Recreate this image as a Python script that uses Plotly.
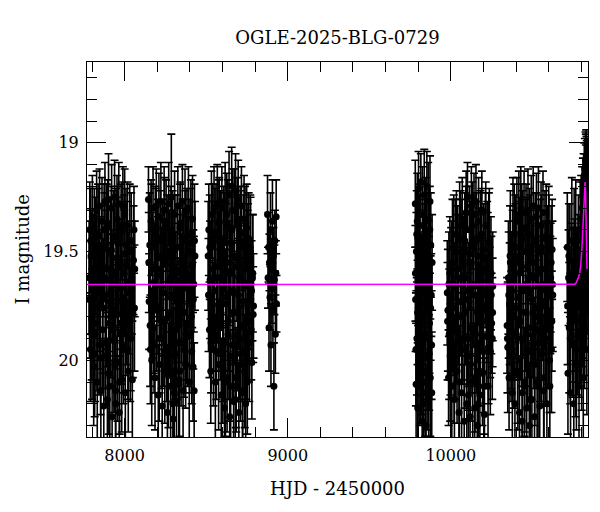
import plotly.graph_objects as go

# ---- Season data (HJD - 2450000, I mag, error) ----
t1 = [7782, 7786, 7790, 7794, 7798, 7802, 7806, 7810, 7814, 7818,
      7824, 7828, 7832, 7835, 7839, 7843, 7846, 7850, 7854, 7857,
      7861, 7865, 7868, 7872, 7876, 7879, 7883, 7887, 7890, 7894,
      7898, 7901, 7905, 7909, 7912, 7916, 7920, 7923, 7927, 7931,
      7934, 7938, 7942, 7945, 7949, 7953, 7956, 7960, 7964, 7967,
      7971, 7975, 7978, 7982, 7986, 7989, 7993, 7997, 8000, 8004,
      8008, 8012, 8017, 8022, 8028, 8034, 8040, 8047, 8054, 8060,
      7784, 7792, 7800, 7808, 7816, 7822, 7830, 7837, 7844, 7852,
      7859, 7866, 7874, 7881, 7888, 7896, 7903, 7910, 7918, 7925,
      7932, 7940, 7947, 7954, 7962, 7969, 7976, 7984, 7991, 7998,
      8006, 8014, 8020, 8026, 8031, 8037, 8043, 8050, 8057, 8062,
      7913, 7929, 7944, 7958, 7980]
m1 = [19.62, 19.40, 19.95, 19.52, 19.81, 19.34, 19.71, 20.03, 19.46, 19.88,
      19.57, 19.31, 20.10, 19.66, 19.43, 19.93, 19.29, 19.75, 20.14, 19.55,
      19.36, 19.86, 19.62, 20.21, 19.48, 19.27, 19.98, 19.70, 19.39, 20.18,
      19.58, 19.26, 19.83, 20.12, 19.50, 19.68, 19.30, 20.26, 19.61, 19.44,
      19.91, 19.25, 19.77, 20.20, 19.53, 19.35, 20.01, 19.66, 19.28, 20.24,
      19.57, 19.83, 19.41, 20.09, 19.72, 19.29, 19.95, 19.60, 19.33, 20.15,
      19.47, 19.79, 19.38, 20.05, 19.64, 19.88, 19.45, 20.09, 19.54, 19.76,
      19.72, 19.45, 19.88, 19.58, 19.97, 19.50, 19.83, 19.42, 19.68, 19.99,
      19.53, 19.76, 19.40, 19.92, 19.63, 19.37, 20.06, 19.73, 19.49, 19.86,
      19.60, 20.02, 19.43, 19.79, 19.55, 20.10, 19.67, 19.38, 19.94, 19.51,
      19.82, 19.56, 19.95, 19.69, 19.50, 19.90, 19.62, 19.78, 19.40, 19.58,
      19.80, 19.65, 20.14, 19.46, 19.88]
e1 = [0.26, 0.22, 0.24, 0.21, 0.28, 0.19, 0.19, 0.27, 0.25, 0.31,
      0.22, 0.18, 0.30, 0.20, 0.22, 0.23, 0.17, 0.29, 0.24, 0.21,
      0.20, 0.27, 0.18, 0.30, 0.25, 0.18, 0.22, 0.33, 0.20, 0.28,
      0.20, 0.21, 0.24, 0.27, 0.25, 0.22, 0.20, 0.26, 0.19, 0.22,
      0.33, 0.17, 0.21, 0.29, 0.25, 0.20, 0.27, 0.23, 0.19, 0.26,
      0.22, 0.28, 0.22, 0.24, 0.20, 0.18, 0.25, 0.29, 0.21, 0.33,
      0.26, 0.23, 0.20, 0.28, 0.24, 0.31, 0.22, 0.27, 0.25, 0.29,
      0.27, 0.24, 0.30, 0.22, 0.29, 0.25, 0.31, 0.23, 0.28, 0.26,
      0.24, 0.30, 0.21, 0.21, 0.32, 0.20, 0.28, 0.23, 0.29, 0.26,
      0.31, 0.22, 0.22, 0.25, 0.30, 0.24, 0.28, 0.20, 0.21, 0.27,
      0.25, 0.29, 0.23, 0.28, 0.31, 0.24, 0.26, 0.30, 0.20, 0.22,
      0.28, 0.25, 0.30, 0.26, 0.23]

t2 = [8146, 8150, 8154, 8158, 8162, 8166, 8170, 8174, 8178, 8182,
      8186, 8190, 8194, 8198, 8202, 8206, 8210, 8214, 8218, 8222,
      8226, 8230, 8234, 8238, 8242, 8246, 8250, 8254, 8258, 8262,
      8266, 8270, 8274, 8278, 8282, 8286, 8290, 8294, 8298, 8302,
      8306, 8310, 8314, 8318, 8322, 8326, 8330, 8334, 8338, 8342,
      8346, 8350, 8354, 8358, 8362, 8366, 8370, 8374, 8378, 8382,
      8386, 8391, 8396, 8401, 8406, 8411, 8416, 8421, 8426, 8431,
      8148, 8156, 8164, 8172, 8180, 8188, 8196, 8204, 8212, 8220,
      8228, 8236, 8244, 8252, 8260, 8268, 8276, 8284, 8292, 8300,
      8308, 8316, 8324, 8332, 8340, 8348, 8356, 8364, 8372, 8380,
      8388, 8394, 8399, 8404, 8409, 8414, 8419, 8424, 8428, 8296,
      8288, 8304, 8320, 8336, 8344]
m2 = [19.26, 19.73, 19.47, 19.95, 19.36, 20.00, 19.58, 19.30, 19.85, 19.64,
      20.08, 19.42, 19.29, 19.77, 19.53, 20.16, 19.34, 19.90, 19.61, 19.27,
      19.82, 20.21, 19.45, 19.69, 19.31, 20.05, 19.56, 19.38, 19.94, 20.24,
      19.50, 19.28, 19.79, 19.63, 20.12, 19.25, 19.87, 19.44, 20.27, 19.59,
      19.33, 19.97, 19.71, 20.19, 19.48, 19.29, 19.84, 20.09, 19.55, 19.37,
      19.92, 19.66, 19.27, 20.14, 19.52, 19.78, 19.32, 20.02, 19.60, 19.43,
      19.89, 19.30, 20.10, 19.68, 19.46, 19.96, 19.35, 19.72, 20.14, 19.52,
      19.55, 19.84, 19.40, 19.68, 19.93, 19.47, 19.75, 19.58, 20.02, 19.44,
      19.66, 19.90, 19.36, 19.81, 19.52, 20.07, 19.63, 19.41, 19.98, 19.70,
      19.49, 19.86, 19.60, 20.11, 19.39, 19.77, 19.54, 19.95, 19.45, 19.83,
      19.62, 19.50, 19.88, 19.42, 19.80, 19.56, 20.03, 19.65, 19.45, 20.20,
      19.71, 20.15, 19.92, 20.05, 19.58]
e2 = [0.15, 0.22, 0.24, 0.25, 0.19, 0.30, 0.26, 0.19, 0.21, 0.27,
      0.24, 0.21, 0.17, 0.20, 0.27, 0.23, 0.20, 0.25, 0.28, 0.18,
      0.31, 0.26, 0.19, 0.29, 0.20, 0.24, 0.21, 0.21, 0.25, 0.30,
      0.22, 0.19, 0.27, 0.24, 0.29, 0.29, 0.26, 0.22, 0.23, 0.28,
      0.20, 0.21, 0.30, 0.27, 0.24, 0.18, 0.22, 0.28, 0.26, 0.19,
      0.29, 0.24, 0.17, 0.31, 0.22, 0.26, 0.20, 0.20, 0.28, 0.22,
      0.23, 0.19, 0.26, 0.21, 0.29, 0.24, 0.20, 0.32, 0.22, 0.25,
      0.23, 0.28, 0.21, 0.31, 0.22, 0.27, 0.30, 0.24, 0.26, 0.22,
      0.27, 0.22, 0.20, 0.25, 0.28, 0.24, 0.32, 0.21, 0.21, 0.29,
      0.25, 0.30, 0.23, 0.27, 0.20, 0.24, 0.28, 0.22, 0.23, 0.26,
      0.28, 0.24, 0.27, 0.21, 0.23, 0.29, 0.25, 0.22, 0.26, 0.31,
      0.24, 0.28, 0.26, 0.30, 0.25]

t3 = [8512, 8516, 8520, 8524, 8528, 8532, 8536, 8540, 8544, 8548,
      8552, 8556, 8560, 8564, 8568, 8572, 8576, 8580, 8584, 8588,
      8592, 8596, 8600, 8604, 8608, 8612, 8616, 8620, 8624, 8628,
      8632, 8636, 8640, 8644, 8648, 8652, 8656, 8660, 8664, 8668,
      8672, 8676, 8680, 8684, 8688, 8692, 8696, 8700, 8704, 8708,
      8712, 8716, 8720, 8724, 8728, 8732, 8736, 8740, 8744, 8748,
      8752, 8756, 8760, 8764, 8768, 8772, 8776, 8780, 8784, 8788,
      8514, 8522, 8530, 8538, 8546, 8554, 8562, 8570, 8578, 8586,
      8594, 8602, 8610, 8618, 8626, 8634, 8642, 8650, 8658, 8666,
      8674, 8682, 8690, 8698, 8706, 8714, 8722, 8730, 8738, 8746,
      8754, 8762, 8770, 8778, 8786, 8790, 8646, 8662, 8678, 8694,
      8710, 8726, 8742, 8758, 8618]
m3 = [19.52, 19.40, 19.86, 19.63, 20.05, 19.33, 19.74, 19.47, 19.95, 19.30,
      19.68, 20.10, 19.41, 19.84, 19.28, 19.57, 20.02, 19.36, 19.76, 19.50,
      20.16, 19.30, 19.65, 19.91, 19.44, 20.22, 19.27, 19.71, 19.55, 20.08,
      19.38, 19.82, 19.24, 20.26, 19.60, 19.46, 19.20, 19.93, 19.68, 20.19,
      19.31, 19.78, 19.22, 20.12, 19.53, 19.88, 19.26, 20.24, 19.62, 19.41,
      19.97, 19.29, 19.73, 20.15, 19.48, 19.35, 20.05, 19.66, 19.83, 19.39,
      20.10, 19.58, 19.44, 19.92, 19.70, 19.50, 19.86, 20.01, 19.62, 19.79,
      19.70, 19.48, 19.92, 19.58, 19.80, 19.43, 19.96, 19.62, 19.37, 19.85,
      19.55, 20.04, 19.46, 19.74, 19.33, 19.88, 19.60, 20.12, 19.40, 19.78,
      19.52, 20.08, 19.36, 19.70, 19.90, 19.45, 20.14, 19.64, 19.42, 19.96,
      19.56, 19.82, 19.48, 19.68, 19.60, 19.75, 19.98, 19.31, 20.18, 19.57,
      20.02, 19.84, 20.20, 19.73, 20.10]
e3 = [0.25, 0.21, 0.22, 0.27, 0.24, 0.20, 0.20, 0.28, 0.26, 0.19,
      0.23, 0.29, 0.22, 0.21, 0.18, 0.25, 0.30, 0.20, 0.22, 0.28,
      0.26, 0.19, 0.19, 0.28, 0.24, 0.30, 0.18, 0.22, 0.27, 0.25,
      0.21, 0.23, 0.20, 0.26, 0.20, 0.24, 0.18, 0.25, 0.22, 0.30,
      0.19, 0.24, 0.17, 0.21, 0.29, 0.26, 0.18, 0.23, 0.28, 0.21,
      0.22, 0.18, 0.27, 0.24, 0.24, 0.20, 0.26, 0.29, 0.25, 0.20,
      0.24, 0.30, 0.21, 0.27, 0.25, 0.25, 0.23, 0.26, 0.29, 0.22,
      0.26, 0.24, 0.23, 0.31, 0.25, 0.22, 0.22, 0.30, 0.20, 0.24,
      0.29, 0.25, 0.23, 0.22, 0.19, 0.30, 0.24, 0.26, 0.21, 0.23,
      0.27, 0.23, 0.20, 0.25, 0.28, 0.23, 0.24, 0.26, 0.22, 0.22,
      0.25, 0.28, 0.24, 0.23, 0.27, 0.24, 0.30, 0.19, 0.22, 0.29,
      0.26, 0.31, 0.24, 0.28, 0.25]

t4 = [8876, 8879, 8882, 8885, 8888, 8891, 8894, 8897, 8900, 8903,
      8906, 8909, 8912, 8915, 8918, 8921, 8924, 8927, 8929, 8931]
m4 = [19.33, 19.62, 19.48, 19.85, 19.55, 19.71, 19.40, 19.93, 19.58, 19.67,
      19.36, 19.77, 19.52, 20.12, 19.63, 19.45, 19.88, 19.60, 19.34, 19.74]
e4 = [0.18, 0.14, 0.16, 0.20, 0.13, 0.15, 0.17, 0.19, 0.14, 0.16,
      0.19, 0.15, 0.13, 0.20, 0.16, 0.14, 0.18, 0.15, 0.17, 0.13]

t5 = [9782, 9784, 9787, 9789, 9792, 9794, 9797, 9800, 9802, 9805,
      9808, 9810, 9813, 9816, 9818, 9821, 9824, 9826, 9829, 9832,
      9834, 9837, 9840, 9842, 9845, 9848, 9850, 9853, 9856, 9858,
      9861, 9864, 9866, 9869, 9872, 9874, 9877, 9880, 9882, 9885,
      9783, 9786, 9791, 9796, 9799, 9803, 9807, 9811, 9815, 9819,
      9823, 9827, 9831, 9835, 9839, 9843, 9847, 9851, 9855, 9859,
      9863, 9867, 9871, 9876, 9883]
m5 = [19.28, 19.72, 20.11, 19.50, 19.90, 19.36, 20.22, 19.63, 19.21, 19.84,
      19.45, 20.05, 19.58, 19.18, 19.96, 19.69, 20.28, 19.33, 19.79, 19.52,
      20.15, 19.24, 19.66, 19.88, 19.41, 20.30, 19.57, 19.20, 19.99, 19.75,
      19.35, 20.18, 19.61, 19.83, 19.27, 20.08, 19.47, 19.70, 19.93, 19.55,
      19.60, 19.95, 19.42, 19.78, 20.12, 19.55, 19.87, 19.38, 20.02, 19.65,
      19.82, 19.48, 20.20, 19.73, 19.52, 20.10, 19.90, 19.44, 19.68, 20.05,
      19.58, 19.97, 19.40, 19.76, 20.15]
e5 = [0.20, 0.24, 0.28, 0.18, 0.26, 0.22, 0.30, 0.19, 0.17, 0.27,
      0.21, 0.25, 0.17, 0.13, 0.29, 0.20, 0.24, 0.22, 0.26, 0.18,
      0.27, 0.21, 0.23, 0.19, 0.25, 0.28, 0.20, 0.16, 0.24, 0.22,
      0.26, 0.29, 0.18, 0.23, 0.21, 0.27, 0.24, 0.19, 0.25, 0.22,
      0.22, 0.26, 0.20, 0.24, 0.28, 0.21, 0.25, 0.19, 0.27, 0.23,
      0.24, 0.20, 0.29, 0.22, 0.26, 0.25, 0.28, 0.21, 0.23, 0.27,
      0.22, 0.26, 0.20, 0.24, 0.28]

t6 = [9978, 9982, 9986, 9990, 9994, 9998, 10002, 10006, 10010, 10014,
      10018, 10022, 10026, 10030, 10034, 10038, 10042, 10046, 10050, 10054,
      10058, 10062, 10066, 10070, 10074, 10078, 10082, 10086, 10090, 10094,
      10098, 10102, 10106, 10110, 10114, 10118, 10122, 10126, 10130, 10134,
      10138, 10142, 10146, 10150, 10154, 10158, 10162, 10166, 10170, 10174,
      10178, 10182, 10186, 10190, 10194, 10198, 10202, 10206, 10210, 10214,
      10218, 10223, 10228, 10233, 10238, 10242, 10246, 10250, 10254, 10257,
      9980, 9988, 9996, 10004, 10012, 10020, 10028, 10036, 10044, 10052,
      10060, 10068, 10076, 10084, 10092, 10100, 10108, 10116, 10124, 10132,
      10140, 10148, 10156, 10164, 10172, 10180, 10188, 10196, 10204, 10212,
      10220, 10226, 10231, 10236, 10241, 10248, 10256, 10088, 10104, 10120,
      10136, 10152, 10168, 10184, 10200]
m6 = [19.69, 19.77, 20.08, 19.88, 19.60, 19.95, 19.72, 20.12, 19.55, 19.84,
      19.48, 20.18, 19.66, 19.92, 19.42, 20.05, 19.58, 19.80, 20.24, 19.38,
      19.73, 19.50, 20.15, 19.35, 19.90, 19.62, 20.28, 19.45, 19.78, 19.32,
      20.20, 19.25, 19.68, 19.98, 19.40, 20.26, 19.55, 19.29, 19.86, 20.10,
      19.47, 19.33, 20.22, 19.70, 19.27, 19.93, 20.30, 19.52, 19.36, 19.81,
      20.16, 19.43, 19.64, 19.31, 20.06, 19.75, 19.49, 20.25, 19.58, 19.38,
      19.89, 19.54, 20.12, 19.46, 19.72, 19.96, 19.60, 19.83, 19.90, 19.66,
      19.82, 19.65, 19.98, 19.58, 19.76, 20.04, 19.50, 19.87, 19.62, 20.10,
      19.44, 19.80, 19.56, 19.95, 19.40, 19.72, 20.16, 19.51, 19.85, 19.38,
      19.66, 20.08, 19.45, 19.78, 19.57, 19.92, 19.42, 19.70, 20.12, 19.53,
      19.77, 19.60, 19.94, 19.52, 19.85, 19.70, 19.78, 19.62, 19.90, 20.02,
      19.48, 19.88, 20.20, 19.58, 19.96]
e6 = [0.24, 0.28, 0.22, 0.30, 0.26, 0.21, 0.33, 0.25, 0.29, 0.23,
      0.24, 0.27, 0.20, 0.26, 0.20, 0.24, 0.29, 0.22, 0.28, 0.20,
      0.25, 0.24, 0.23, 0.19, 0.21, 0.28, 0.26, 0.22, 0.24, 0.19,
      0.27, 0.16, 0.22, 0.25, 0.20, 0.24, 0.28, 0.18, 0.21, 0.26,
      0.23, 0.19, 0.24, 0.27, 0.17, 0.22, 0.26, 0.25, 0.20, 0.23,
      0.25, 0.21, 0.32, 0.18, 0.24, 0.30, 0.21, 0.26, 0.27, 0.20,
      0.22, 0.27, 0.25, 0.23, 0.24, 0.29, 0.26, 0.23, 0.28, 0.25,
      0.27, 0.24, 0.30, 0.22, 0.28, 0.25, 0.24, 0.23, 0.29, 0.26,
      0.22, 0.29, 0.22, 0.27, 0.20, 0.24, 0.28, 0.26, 0.30, 0.20,
      0.28, 0.25, 0.22, 0.23, 0.27, 0.29, 0.21, 0.26, 0.22, 0.30,
      0.24, 0.28, 0.26, 0.31, 0.23, 0.27, 0.25, 0.29, 0.22, 0.26,
      0.23, 0.24, 0.27, 0.25, 0.28]

t7 = [10345, 10349, 10353, 10357, 10361, 10365, 10369, 10373, 10377, 10381,
      10385, 10389, 10393, 10397, 10401, 10405, 10409, 10413, 10417, 10421,
      10425, 10429, 10433, 10437, 10441, 10445, 10449, 10453, 10457, 10461,
      10465, 10469, 10473, 10477, 10481, 10485, 10489, 10493, 10497, 10501,
      10505, 10509, 10513, 10517, 10521, 10525, 10529, 10533, 10537, 10541,
      10545, 10549, 10553, 10557, 10561, 10565, 10569, 10573, 10577, 10581,
      10585, 10589, 10593, 10597, 10602, 10607, 10612, 10617, 10621, 10625,
      10347, 10355, 10363, 10371, 10379, 10387, 10395, 10403, 10411, 10419,
      10427, 10435, 10443, 10451, 10459, 10467, 10475, 10483, 10491, 10499,
      10507, 10515, 10523, 10531, 10539, 10547, 10555, 10563, 10571, 10579,
      10587, 10595, 10600, 10605, 10610, 10615, 10619, 10623, 10439, 10471,
      10487, 10503, 10519, 10535, 10551]
m7 = [19.84, 19.94, 19.62, 20.08, 19.74, 19.55, 19.98, 19.68, 20.15, 19.47,
      19.80, 19.42, 20.20, 19.60, 19.88, 19.36, 20.05, 19.71, 19.33, 20.24,
      19.52, 19.30, 19.90, 20.28, 19.44, 19.66, 19.32, 20.12, 19.78, 19.39,
      20.22, 19.57, 19.31, 19.85, 20.30, 19.48, 19.69, 19.35, 20.18, 19.61,
      19.29, 19.92, 20.26, 19.45, 19.76, 19.34, 20.10, 19.58, 19.30, 19.87,
      20.21, 19.50, 19.38, 19.97, 19.65, 19.32, 20.14, 19.73, 19.44, 19.90,
      19.43, 20.20, 19.55, 19.81, 19.46, 20.12, 19.62, 19.95, 19.49, 19.70,
      19.90, 19.70, 19.52, 19.86, 19.62, 19.98, 19.48, 19.76, 20.06, 19.55,
      19.82, 19.40, 19.68, 20.10, 19.50, 19.88, 19.62, 19.42, 19.96, 19.72,
      19.55, 20.02, 19.45, 19.80, 19.60, 19.92, 19.48, 19.75, 20.08, 19.58,
      19.85, 19.62, 19.50, 20.00, 19.70, 19.55, 19.82, 19.65, 20.15, 19.95,
      20.18, 19.78, 19.62, 20.12, 19.68]
e7 = [0.22, 0.30, 0.26, 0.24, 0.28, 0.33, 0.21, 0.27, 0.25, 0.31,
      0.29, 0.23, 0.26, 0.32, 0.20, 0.20, 0.24, 0.30, 0.20, 0.25,
      0.25, 0.19, 0.22, 0.29, 0.22, 0.24, 0.19, 0.21, 0.27, 0.20,
      0.25, 0.32, 0.19, 0.23, 0.29, 0.24, 0.22, 0.20, 0.30, 0.24,
      0.18, 0.21, 0.31, 0.22, 0.24, 0.20, 0.27, 0.28, 0.19, 0.22,
      0.26, 0.24, 0.20, 0.23, 0.28, 0.19, 0.30, 0.22, 0.22, 0.31,
      0.24, 0.28, 0.26, 0.30, 0.22, 0.27, 0.25, 0.29, 0.23, 0.26,
      0.25, 0.29, 0.23, 0.27, 0.31, 0.24, 0.24, 0.22, 0.26, 0.30,
      0.27, 0.21, 0.30, 0.25, 0.24, 0.24, 0.31, 0.21, 0.22, 0.29,
      0.24, 0.28, 0.22, 0.30, 0.23, 0.27, 0.24, 0.25, 0.29, 0.22,
      0.28, 0.25, 0.30, 0.24, 0.27, 0.26, 0.23, 0.29, 0.25, 0.28,
      0.26, 0.30, 0.24, 0.27, 0.25]

t8 = [10714, 10718, 10722, 10726, 10730, 10734, 10738, 10742, 10746, 10750,
      10754, 10758, 10762, 10766, 10770, 10774, 10778, 10782, 10786, 10790,
      10793, 10796, 10799, 10802, 10805, 10808, 10810, 10812, 10814, 10816,
      10818, 10820, 10822, 10824, 10826, 10827, 10828, 10829, 10830, 10831,
      10832, 10834, 10836, 10838, 10840,
      10716, 10724, 10732, 10740, 10748, 10756, 10764, 10772, 10780, 10788,
      10795, 10801, 10807, 10811, 10815, 10819, 10821, 10823, 10825, 10828,
      10830, 10833, 10835, 10837, 10839]
m8 = [19.48, 20.06, 19.62, 19.85, 19.54, 20.15, 19.70, 19.45, 19.93, 19.66,
      20.20, 19.58, 19.78, 19.42, 20.02, 19.64, 19.88, 19.50, 20.12, 19.72,
      19.40, 19.82, 19.35, 19.95, 19.30, 19.70, 19.25, 20.08, 19.22, 19.62,
      19.15, 19.85, 19.12, 19.52, 19.08, 19.68, 19.10, 19.40, 19.07, 19.78,
      19.10, 19.95, 19.12, 19.55, 19.15,
      19.75, 19.52, 19.90, 19.60, 19.82, 19.46, 19.95, 19.65, 19.55, 19.88,
      19.62, 19.45, 19.80, 19.38, 19.72, 19.30, 19.60, 19.20, 19.48, 19.15,
      19.35, 19.12, 19.62, 19.25, 19.42]
e8 = [0.25, 0.28, 0.22, 0.30, 0.26, 0.32, 0.21, 0.29, 0.24, 0.27,
      0.31, 0.23, 0.27, 0.25, 0.30, 0.22, 0.28, 0.26, 0.33, 0.24,
      0.22, 0.30, 0.20, 0.28, 0.19, 0.29, 0.18, 0.31, 0.17, 0.26,
      0.15, 0.28, 0.14, 0.25, 0.13, 0.27, 0.14, 0.23, 0.13, 0.29,
      0.13, 0.30, 0.14, 0.24, 0.15,
      0.27, 0.24, 0.30, 0.23, 0.28, 0.25, 0.31, 0.26, 0.22, 0.29,
      0.25, 0.28, 0.23, 0.20, 0.24, 0.19, 0.26, 0.15, 0.25, 0.14,
      0.20, 0.13, 0.26, 0.17, 0.24]

seasons = [(t1, m1, e1), (t2, m2, e2), (t3, m3, e3), (t4, m4, e4),
           (t5, m5, e5), (t6, m6, e6), (t7, m7, e7), (t8, m8, e8)]

# ---- Microlensing model curve ----
model_t = [7769, 10750, 10760, 10768, 10775, 10782, 10790, 10797, 10804,
           10810, 10815, 10819, 10823, 10826, 10829, 10832, 10835]
model_m = [19.652, 19.652, 19.650, 19.645, 19.635, 19.62, 19.60, 19.56, 19.48,
           19.38, 19.29, 19.22, 19.18, 19.22, 19.32, 19.45, 19.58]

FONT = "DejaVu Serif"
W, H = 592, 504   # page body adds an 8 px margin in the 600x512 window
L, R, T, B = 79, 12, 54, 75

fig = go.Figure()
for t, m, e in seasons:
    fig.add_trace(go.Scatter(
        x=t, y=m, mode="markers",
        marker=dict(color="black", size=7, symbol="circle"),
        error_y=dict(type="data", array=e, visible=True,
                     color="black", thickness=1.6, width=4),
        showlegend=False, hoverinfo="skip"))

fig.add_trace(go.Scatter(x=model_t, y=model_m, mode="lines",
                         line=dict(color="#ff00ff", width=1.5),
                         showlegend=False, hoverinfo="skip"))

axis_common = dict(
    showline=True, linecolor="black", linewidth=1, mirror="allticks",
    ticks="inside", ticklen=19, tickwidth=1, tickcolor="black",
    showgrid=False, zeroline=False, automargin=False,
    tickfont=dict(family=FONT, size=16, color="black"),
)

fig.update_xaxes(
    range=[7769, 10841], tick0=0, dtick=1000, tickformat="d",
    ticklabelstandoff=4,
    minor=dict(ticks="inside", ticklen=10, dtick=200, tick0=0,
               tickcolor="black", showgrid=False),
    title=dict(text="HJD - 2450000", font=dict(family=FONT, size=18, color="black"),
               standoff=18),
    **axis_common)
fig.update_yaxes(
    range=[20.353, 18.628], tick0=0, dtick=0.5,
    ticklabelstandoff=4,
    minor=dict(ticks="inside", ticklen=10, dtick=0.1, tick0=0,
               tickcolor="black", showgrid=False),
    **axis_common)

# y-axis title placed as an annotation so it can sit closer to the page edge
fig.add_annotation(
    text="I magnitude", textangle=-90, showarrow=False,
    xref="paper", yref="paper", x=(14 - L) / (W - L - R), y=0.5,
    xanchor="center", yanchor="middle",
    font=dict(family=FONT, size=18, color="black"))

fig.update_layout(
    width=W, height=H,
    margin=dict(l=L, r=R, t=T, b=B),
    paper_bgcolor="white", plot_bgcolor="white",
    title=dict(text="OGLE-2025-BLG-0729", x=329.5 / W, xanchor="center",
               y=1 - 30 / H, yanchor="middle",
               font=dict(family=FONT, size=18, color="black")),
    font=dict(family=FONT, color="black"),
)

fig.write_html("out.html")
